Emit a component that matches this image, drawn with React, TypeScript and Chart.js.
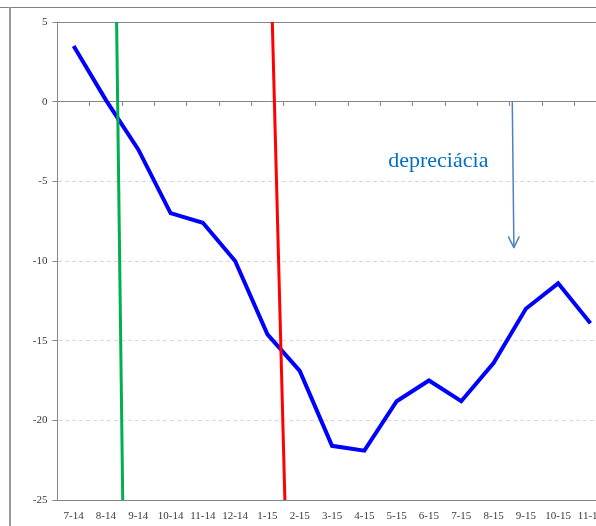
import { useEffect, useRef } from "react";
import { Chart, registerables } from "chart.js";

Chart.register(...registerables);

// Monthly categories (month-year)
const months = [
  "7-14", "8-14", "9-14", "10-14", "11-14", "12-14", "1-15", "2-15", "3-15",
  "4-15", "5-15", "6-15", "7-15", "8-15", "9-15", "10-15", "11-15",
];

// Cumulative change, %
const rateChange = [
  3.5, 0.1, -3.0, -7.0, -7.6, -10.0, -14.6, -16.9, -21.6, -21.9, -18.8, -17.5,
  -18.8, -16.4, -13.0, -11.4, -13.9,
];

// Y axis range and step
const yMin = -25;
const yMax = 5;
const yStep = 5;

// Event markers, positioned in category-index units
const greenMarker = [
  { x: 1.33, y: 5 },
  { x: 1.52, y: -25 },
];
const redMarker = [
  { x: 6.15, y: 5 },
  { x: 6.54, y: -25 },
];

// Arrow pointing down into the depreciation zone
const arrowPath = [
  { x: 13.58, y: 0 },
  { x: 13.63, y: -9.16 },
];

const noteText = "depreciácia";
const noteAt = { x: 9.74, y: -4.07 };

const AXIS_GREY = "#868686";
const GRID_GREY = "#d9d9d9";
const LABEL_GREY = "#3a3a3a";
const ARROW_BLUE = "#4f81bd";
const NOTE_BLUE = "#0070c0";
const SERIF = "'Liberation Serif', 'Times New Roman', serif";

const annotate = {
  id: "annotate",
  afterDatasetsDraw(chart: any) {
    const { ctx } = chart;
    const xs = chart.scales.x2;
    const ys = chart.scales.y;

    // arrow head at the end of the arrow line
    const pts = chart.getDatasetMeta(3).data;
    const a = pts[pts.length - 2];
    const b = pts[pts.length - 1];
    const ang = Math.atan2(b.y - a.y, b.x - a.x);
    ctx.save();
    ctx.strokeStyle = ARROW_BLUE;
    ctx.lineWidth = 1.5;
    ctx.lineCap = "round";
    ctx.beginPath();
    for (const s of [-1, 1]) {
      ctx.moveTo(b.x, b.y);
      ctx.lineTo(
        b.x - 12 * Math.cos(ang + s * 0.46),
        b.y - 12 * Math.sin(ang + s * 0.46)
      );
    }
    ctx.stroke();

    // annotation text
    ctx.font = `22px ${SERIF}`;
    ctx.fillStyle = NOTE_BLUE;
    ctx.textAlign = "left";
    ctx.textBaseline = "alphabetic";
    ctx.fillText(noteText, xs.getPixelForValue(noteAt.x), ys.getPixelForValue(noteAt.y));
    ctx.restore();
  },
};

// keep horizontal axes from reserving extra side padding for their labels
const noSidePadding = (s: any) => {
  s.paddingLeft = 0;
  s.paddingRight = 0;
};

export default function App() {
  const canvasRef = useRef<HTMLCanvasElement | null>(null);

  useEffect(() => {
    const canvas = canvasRef.current;
    if (!canvas) return;

    const tickFont = { family: SERIF, size: 11 };

    const chart = new Chart(canvas, {
      type: "line",
      data: {
        labels: months,
        datasets: [
          {
            label: "marker-green",
            data: greenMarker,
            xAxisID: "x2",
            yAxisID: "y",
            borderColor: "#00b050",
            borderWidth: 3,
            pointRadius: 0,
            order: 0,
          },
          {
            label: "marker-red",
            data: redMarker,
            xAxisID: "x2",
            yAxisID: "y",
            borderColor: "#ff0000",
            borderWidth: 3,
            pointRadius: 0,
            order: 0,
          },
          {
            label: "change",
            data: rateChange,
            xAxisID: "x",
            yAxisID: "y",
            borderColor: "#0000ff",
            borderWidth: 4,
            pointRadius: 0,
            tension: 0,
            order: 5,
          },
          {
            label: "arrow",
            data: arrowPath,
            xAxisID: "x2",
            yAxisID: "y",
            borderColor: ARROW_BLUE,
            borderWidth: 1.5,
            pointRadius: 0,
            order: 1,
          },
        ],
      },
      options: {
        responsive: false,
        animation: false,
        devicePixelRatio: 1,
        layout: { padding: { top: 22, left: 0, right: 3.4, bottom: 0 } },
        plugins: {
          legend: { display: false },
          tooltip: { enabled: false },
        },
        scales: {
          x: {
            type: "category",
            axis: "x",
            position: "bottom",
            offset: true,
            grid: { display: false, drawTicks: false, drawOnChartArea: false },
            border: { display: true, color: AXIS_GREY },
            ticks: {
              font: tickFont,
              color: LABEL_GREY,
              padding: 10,
              maxRotation: 0,
              autoSkip: false,
            },
            afterFit: (s: any) => {
              s.height = 26;
              noSidePadding(s);
            },
          },
          xZero: {
            type: "category",
            axis: "x",
            position: { y: 0 },
            offset: true,
            grid: {
              offset: true,
              drawOnChartArea: false,
              drawTicks: true,
              tickLength: 4,
              color: AXIS_GREY,
            },
            border: { display: true, color: AXIS_GREY },
            ticks: { display: false },
            afterFit: noSidePadding,
          },
          xTop: {
            type: "category",
            axis: "x",
            position: { y: yMax },
            offset: true,
            grid: { display: false, drawTicks: false },
            border: { display: true, color: AXIS_GREY },
            ticks: { display: false },
            afterFit: noSidePadding,
          },
          x2: {
            type: "linear",
            axis: "x",
            display: false,
            bounds: "data",
            min: -0.5,
            max: months.length - 0.5,
          },
          y: {
            type: "linear",
            position: "left",
            min: yMin,
            max: yMax,
            ticks: {
              stepSize: yStep,
              font: tickFont,
              color: LABEL_GREY,
              padding: 5,
            },
            grid: {
              color: (c: any) =>
                c.tick && (c.tick.value === 0 || c.tick.value === yMax || c.tick.value === yMin)
                  ? "rgba(0,0,0,0)"
                  : GRID_GREY,
              tickColor: AXIS_GREY,
              tickLength: 5,
              lineWidth: 1,
            },
            border: { display: true, color: AXIS_GREY, dash: [4, 3] },
            afterFit: (s: any) => {
              s.width = 57.5;
            },
          },
        },
      },
      plugins: [annotate],
    } as any);

    return () => chart.destroy();
  }, []);

  return (
    <div
      style={{
        position: "absolute",
        left: 0,
        top: 0,
        width: 596,
        height: 526,
        overflow: "hidden",
        background: "#ffffff",
      }}
    >
      <div
        style={{
          position: "absolute",
          left: 0,
          top: 7,
          width: 596,
          height: 1,
          background: "#808080",
        }}
      />
      <div
        style={{
          position: "absolute",
          left: 9,
          top: 7,
          width: 2,
          height: 519,
          background: "#9a9a9a",
        }}
      />
      <canvas
        ref={canvasRef}
        width={610}
        height={526}
        style={{ position: "absolute", left: 0, top: 0, width: 610, height: 526 }}
      />
    </div>
  );
}
